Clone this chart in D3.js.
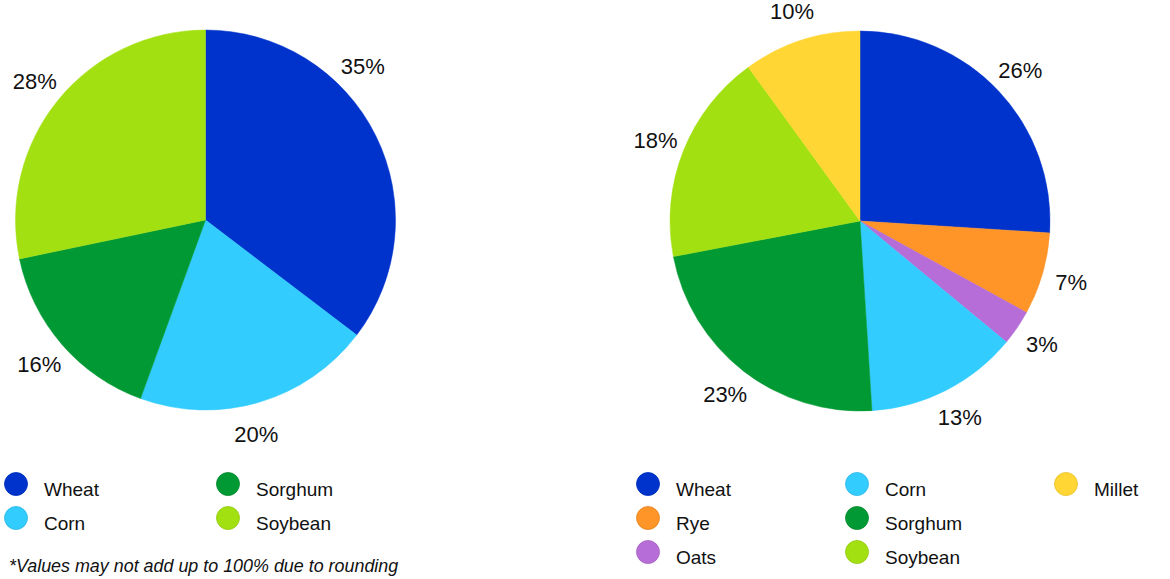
<!DOCTYPE html>
<html>
<head>
    <style>
        body { margin: 0; background: #fff; }
        svg text { font-family: "Liberation Sans", Arial, sans-serif; fill: #111; }
        .pct { font-size: 22px; text-anchor: middle; dominant-baseline: central; }
        .leg { font-size: 19px; dominant-baseline: central; }
        .note { font-size: 17.9px; font-style: italic; }
    </style>
    <script src="https://d3js.org/d3.v7.min.js"></script>
</head>
<body>
    <svg width="1170" height="579"></svg>
    <script>
        // left pie
        var leftNames = ["Wheat", "Corn", "Sorghum", "Soybean"];
        var leftValues = [35, 20, 16, 28];

        // right pie
        var rightNames = ["Wheat", "Rye", "Oats", "Corn", "Sorghum", "Soybean", "Millet"];
        var rightValues = [26, 7, 3, 13, 23, 18, 10];

        var footnote = "*Values may not add up to 100% due to rounding";

        var color = d3.scaleOrdinal()
            .domain(["Wheat", "Rye", "Oats", "Corn", "Sorghum", "Soybean", "Millet"])
            .range(["#0033CC", "#FF9428", "#B66DD8", "#33CCFF", "#009933", "#A3E012", "#FFD633"]);

        var svg = d3.select("svg");
        var radius = 190;

        var pie = d3.pie().sort(null).value(function(d) { return d.value; });
        var arc = d3.arc().innerRadius(0).outerRadius(radius);

        function drawPie(cx, cy, names, values, nudge) {
            var data = names.map(function(n, i) { return { name: n, value: values[i] }; });
            var g = svg.append("g").attr("transform", "translate(" + cx + "," + cy + ")");

            var slices = pie(data);

            g.selectAll("path")
                .data(slices)
                .enter().append("path")
                .attr("d", arc)
                .attr("fill", function(d) { return color(d.data.name); })
                .attr("stroke", function(d) { return color(d.data.name); })
                .attr("stroke-width", 0.5);

            // labels sit just outside the rim at mid angle
            g.selectAll("text")
                .data(slices)
                .enter().append("text")
                .attr("class", "pct")
                .attr("transform", function(d) {
                    var a = (d.startAngle + d.endAngle) / 2 + ((nudge[d.data.name] || 0) * Math.PI / 180);
                    var r = radius + 30;
                    return "translate(" + (Math.sin(a) * r) + "," + (-Math.cos(a) * r) + ")";
                })
                .text(function(d) { return d.data.value + "%"; });
        }

        function drawLegend(x0, y0, names, rows, colGap) {
            var items = svg.append("g").selectAll("g")
                .data(names)
                .enter().append("g")
                .attr("transform", function(d, i) {
                    var col = Math.floor(i / rows), row = i % rows;
                    return "translate(" + (x0 + col * colGap) + "," + (y0 + row * 34) + ")";
                });

            items.append("circle")
                .attr("r", 11.5)
                .attr("fill", function(d) { return color(d); })
                .attr("stroke", function(d) { return d3.color(color(d)).darker(0.3); })
                .attr("stroke-width", 0.8);

            items.append("text")
                .attr("class", "leg")
                .attr("x", 28)
                .attr("y", 5)
                .text(function(d) { return d; });
        }

        drawPie(205.5, 220, leftNames, leftValues, { Wheat: -18, Corn: 3 });
        drawPie(860, 221, rightNames, rightValues, {});

        drawLegend(16, 484, leftNames, 2, 212);
        drawLegend(648, 484, rightNames, 3, 209);

        svg.append("text")
            .attr("class", "note")
            .attr("x", 9)
            .attr("y", 572)
            .text(footnote);
    </script>
</body>
</html>
